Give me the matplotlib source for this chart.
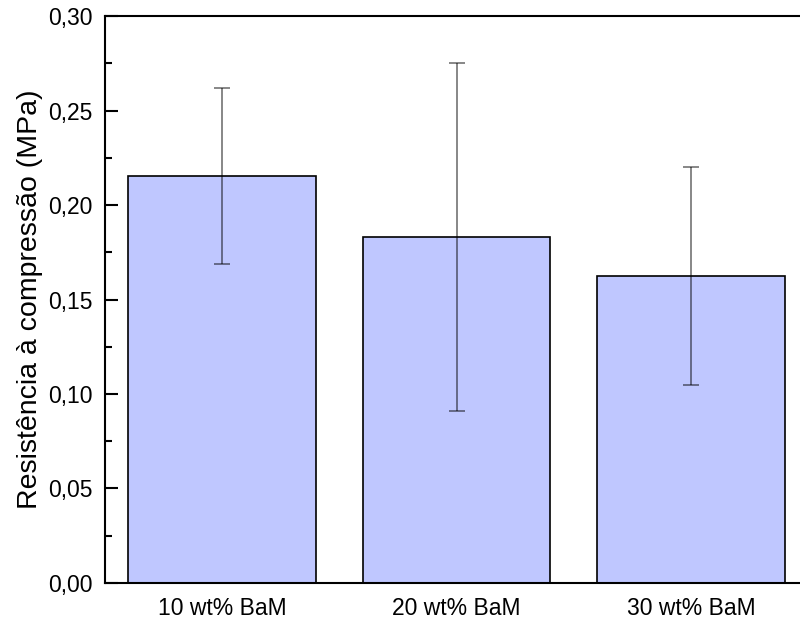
import matplotlib
matplotlib.use('Agg')
import matplotlib.pyplot as plt
from matplotlib.ticker import MultipleLocator, FuncFormatter

plt.rcParams['font.family'] = ['Liberation Sans', 'DejaVu Sans']

# compressive strength per BaM loading
amostras = ['10 wt% BaM', '20 wt% BaM', '30 wt% BaM']
resistencia = [0.2153, 0.1831, 0.1624]
desvio = [0.0466, 0.0923, 0.0579]

fig = plt.figure(figsize=(8.0, 6.21), dpi=100)
ax = fig.add_axes([0.131, 0.0612, 0.8796, 0.913])

x = range(len(amostras))
ax.bar(x, resistencia, width=0.8, color='#bfc7ff', edgecolor='black', linewidth=1.2,
       zorder=2)
ax.errorbar(x, resistencia, yerr=desvio, fmt='none', ecolor='black', alpha=0.55,
            elinewidth=1.2, capsize=6, capthick=1.2, zorder=3)

ax.set_xlim(-0.5, 2.5)
ax.set_ylim(0, 0.30)
ax.set_xticks(list(x))
ax.set_xticklabels(amostras, fontsize=16.5)
ax.tick_params(axis='x', length=0, pad=10)

ax.yaxis.set_major_locator(MultipleLocator(0.05))
ax.yaxis.set_minor_locator(MultipleLocator(0.025))
ax.yaxis.set_major_formatter(FuncFormatter(lambda v, p: ('%.2f' % v).replace('.', ',')))
ax.tick_params(axis='y', which='major', direction='in', length=9, width=1.5, labelsize=16.5, pad=9)
ax.tick_params(axis='y', which='minor', direction='in', length=5, width=1.5)
ax.set_ylabel('Resistência à compressão (MPa)', fontsize=20.5)
ax.yaxis.set_label_coords(-0.088, 0.5)

for s in ax.spines.values():
    s.set_linewidth(1.5)

fig.savefig('out.png', dpi=100)
